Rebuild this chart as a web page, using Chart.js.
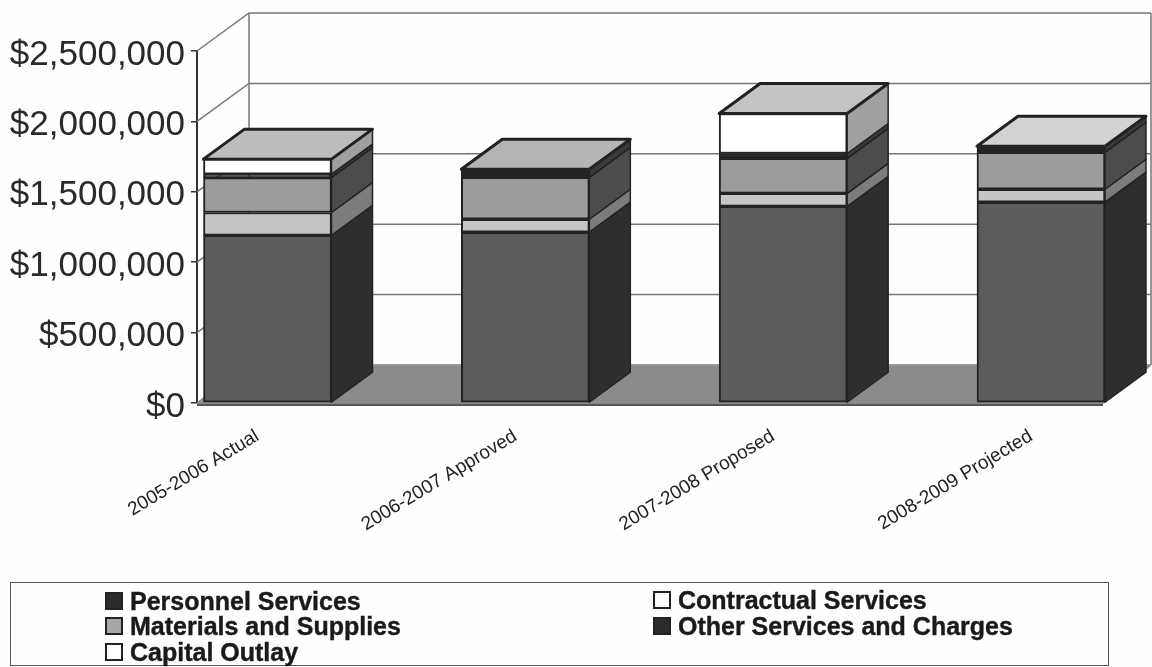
<!DOCTYPE html>
<html>
<head>
<meta charset="utf-8">
<title>Budget by category</title>
<script src="https://cdn.jsdelivr.net/npm/chart.js@4"></script>
<style>
  html, body { margin: 0; padding: 0; background: #fefefe; overflow: hidden; }
  #wrap { position: relative; width: 1152px; height: 667px; }
  canvas { position: absolute; left: 0; top: 0; }
  #legend {
    position: absolute; left: 10px; top: 582px; width: 1099px; height: 84px;
    border: 1.5px solid #555; box-sizing: border-box;
    font: bold 25px "Liberation Sans", Arial, sans-serif; color: #1a1a1a;
  }
  .item { position: absolute; white-space: nowrap; line-height: 26px; -webkit-text-stroke: 0.4px #1a1a1a; }
  .swatch {
    position: absolute; left: -25px; top: 4px; width: 18px; height: 18px;
    border: 2px solid #222; box-sizing: border-box;
  }
</style>
</head>
<body>
<div id="wrap">
  <canvas id="chart" width="1152" height="667"></canvas>
  <div id="legend"></div>
</div>
<script>
const categories = ['2005-2006 Actual', '2006-2007 Approved', '2007-2008 Proposed', '2008-2009 Projected'];
const seriesNames = ['Personnel Services', 'Contractual Services', 'Materials and Supplies', 'Other Services and Charges', 'Capital Outlay'];

const personnel = [1190000, 1213000, 1397000, 1426000];
const contractual = [163000, 92000, 92000, 92000];
const materials = [248000, 298000, 248000, 262000];
const other = [25000, 57000, 35000, 43000];
const capital = [106000, 0, 284000, 0];
const seriesValues = [personnel, contractual, materials, other, capital];

const frontColors = ['#5c5c5c', '#c6c6c6', '#9c9c9c', '#232323', '#ffffff'];
const sideColors = ['#2e2e2e', '#7c7c7c', '#4c4c4c', '#3a3a3a', '#a0a0a0'];
const swatchColors = ['#2b2b2b', '#ffffff', '#a6a6a6', '#2b2b2b', '#ffffff'];
const topColors = ['#bcbcbc', '#b4b4b4', '#c4c4c4', '#d2d2d2'];

const wallDx = 52, wallDy = -38;
const barDx = 41, barDy = -30;

const box3d = {
  id: 'box3d',
  beforeDatasetsDraw(chart) {
    const { ctx, chartArea: a, scales: { y } } = chart;
    ctx.save();

    // floor
    ctx.fillStyle = '#8b8b8b';
    ctx.beginPath();
    ctx.moveTo(a.left, a.bottom + 1);
    ctx.lineTo(a.left + wallDx, a.bottom + 1 + wallDy);
    ctx.lineTo(a.right + wallDx, a.bottom + 1 + wallDy);
    ctx.lineTo(a.right + 4, a.bottom + 1);
    ctx.closePath();
    ctx.fill();

    // back wall grid and the diagonals on the side wall
    ctx.strokeStyle = '#777';
    ctx.lineWidth = 1.5;
    y.ticks.forEach(t => {
      const py = y.getPixelForValue(t.value);
      ctx.beginPath();
      ctx.moveTo(a.left, py);
      ctx.lineTo(a.left + wallDx, py + wallDy);
      ctx.lineTo(a.right + wallDx, py + wallDy);
      ctx.stroke();
    });
    ctx.beginPath();
    ctx.moveTo(a.left + wallDx, a.top + wallDy);
    ctx.lineTo(a.left + wallDx, a.bottom + wallDy);
    ctx.moveTo(a.right + wallDx, a.top + wallDy);
    ctx.lineTo(a.right + wallDx, a.bottom + wallDy);
    ctx.stroke();

    // front edge of the floor
    ctx.strokeStyle = '#555';
    ctx.lineWidth = 2;
    ctx.beginPath();
    ctx.moveTo(a.left, a.bottom + 2);
    ctx.lineTo(a.right + 4, a.bottom + 2);
    ctx.stroke();

    // sides and tops of the bars
    ctx.strokeStyle = '#222';
    ctx.lineJoin = 'round';
    categories.forEach((c, i) => {
      let topEl = null;
      chart.data.datasets.forEach((ds, d) => {
        const el = chart.getDatasetMeta(d).data[i];
        if (!seriesValues[d][i]) return;
        const xr = el.x + el.width / 2;
        ctx.fillStyle = sideColors[d];
        ctx.beginPath();
        ctx.moveTo(xr, el.base);
        ctx.lineTo(xr + barDx, el.base + barDy);
        ctx.lineTo(xr + barDx, el.y + barDy);
        ctx.lineTo(xr, el.y);
        ctx.closePath();
        ctx.fill();
        ctx.lineWidth = 1.5;
        ctx.stroke();
        topEl = el;
      });
      const xl = topEl.x - topEl.width / 2, xr = topEl.x + topEl.width / 2;
      ctx.fillStyle = topColors[i];
      ctx.lineWidth = 3;
      ctx.beginPath();
      ctx.moveTo(xl, topEl.y);
      ctx.lineTo(xl + barDx, topEl.y + barDy);
      ctx.lineTo(xr + barDx, topEl.y + barDy);
      ctx.lineTo(xr, topEl.y);
      ctx.closePath();
      ctx.fill();
      ctx.stroke();
    });
    ctx.restore();
  }
};

new Chart(document.getElementById('chart'), {
  type: 'bar',
  data: {
    datasets: seriesNames.map((name, d) => ({
      label: name,
      data: seriesValues[d].map((v, i) => ({ x: i, y: v })),
      backgroundColor: frontColors[d],
      borderColor: '#222',
      borderWidth: seriesValues[d].map(v => v ? 2 : 0),
      borderSkipped: false,
      barThickness: 128,
      clip: false
    }))
  },
  options: {
    responsive: false,
    animation: false,
    layout: { padding: { right: 53 } },
    plugins: { legend: { display: false }, tooltip: { enabled: false } },
    scales: {
      x: {
        type: 'linear',
        offset: false,
        stacked: true,
        min: -0.2734,
        max: 3.225,
        grid: { display: false, offset: false },
        border: { display: false },
        afterFit(scale) { scale.height = 264; scale.paddingLeft = 0; scale.paddingRight = 0; },
        ticks: {
          stepSize: 1,
          includeBounds: false,
          autoSkip: false,
          minRotation: 31,
          maxRotation: 31,
          padding: 14,
          labelOffset: -10,
          color: '#222',
          font: { family: '"Liberation Sans", Arial, sans-serif', size: 19 },
          callback: v => categories[v]
        }
      },
      y: {
        stacked: true,
        min: 0,
        max: 2500000,
        grid: { drawOnChartArea: false, tickLength: 6, color: '#333', lineWidth: 1.5 },
        border: { display: true, color: '#333', width: 2 },
        afterFit(scale) { scale.width = 197; scale.paddingTop = 51; scale.paddingBottom = 0; },
        ticks: {
          stepSize: 500000,
          padding: 6,
          color: '#2a2a2a',
          // empty first line nudges the label a few px under its tick
          font: { family: '"Liberation Sans", Arial, sans-serif', size: 35, lineHeight: '8px' },
          callback: v => ['', '$' + v.toLocaleString('en-US')]
        }
      }
    }
  },
  plugins: [box3d]
});

// legend keeps the two column layout of the original
const legendSpots = [[119, 5], [667, 4], [119, 30], [667, 30], [119, 56]];
const legend = document.getElementById('legend');
seriesNames.forEach((name, d) => {
  const item = document.createElement('div');
  item.className = 'item';
  item.style.left = legendSpots[d][0] + 'px';
  item.style.top = legendSpots[d][1] + 'px';
  item.textContent = name;
  const sw = document.createElement('span');
  sw.className = 'swatch';
  sw.style.background = swatchColors[d];
  item.appendChild(sw);
  legend.appendChild(item);
});
</script>
</body>
</html>
